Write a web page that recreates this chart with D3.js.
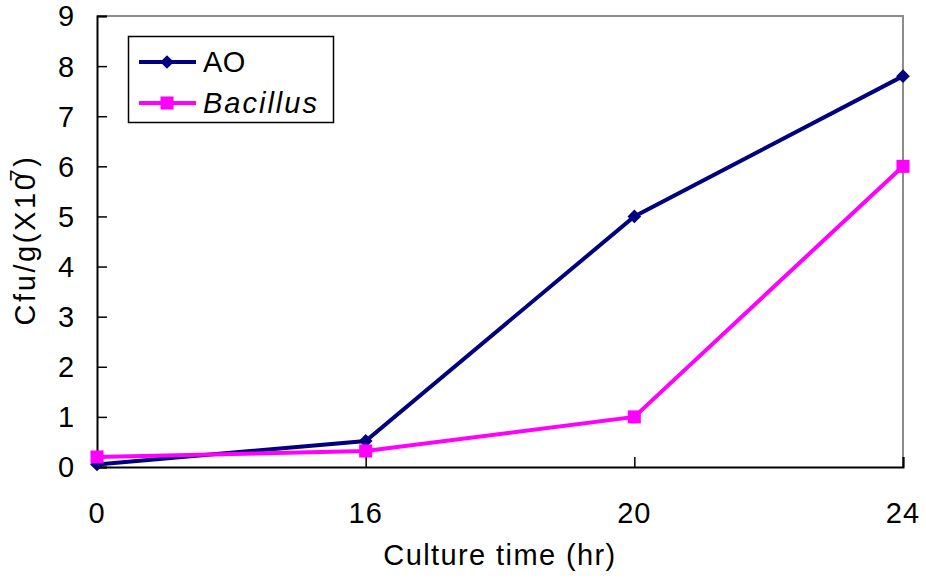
<!DOCTYPE html>
<html><head><meta charset="utf-8">
<script src="https://cdn.jsdelivr.net/npm/d3@7"></script>
<style>body{margin:0;background:#fff}svg{display:block}text{font-family:"Liberation Sans",Arial,sans-serif;fill:#000}</style>
</head><body><svg id="c" width="926" height="580"></svg>
<script>
const categories = ["0","16","20","24"];
const aoValues = [0.05, 0.52, 5.0, 7.8];
const bacillusValues = [0.2, 0.32, 1.0, 6.0];
const yTicks = [0,1,2,3,4,5,6,7,8,9];
const seriesNames = ["AO","Bacillus"];

const svg = d3.select("#c");
const L=97, R=903, T=16, B=467;
const x = d3.scalePoint().domain(categories).range([L,R]);
const y = d3.scaleLinear().domain([0,9]).range([B,T]);
const fs = 29;

// frame (top/right gray)
svg.append("path").attr("d",`M${L},${T}H${R}V${B}`).attr("fill","none").attr("stroke","#8c8c8c").attr("stroke-width",2);

// y axis
const ya = svg.append("g").attr("transform",`translate(${L},0)`)
  .call(d3.axisRight(y).tickValues(yTicks).tickSize(10).tickFormat(""));
ya.select(".domain").attr("stroke","#000").attr("stroke-width",2);
ya.selectAll(".tick line").attr("stroke","#000").attr("stroke-width",1.5);
svg.append("g").selectAll("text").data(yTicks).join("text")
  .attr("x",66).attr("y",d=>y(d)).attr("dy","0.36em").attr("text-anchor","middle")
  .attr("font-size",fs).text(d=>d);

// x axis
const xa = svg.append("g").attr("transform",`translate(0,${B})`)
  .call(d3.axisTop(x).tickSize(10).tickFormat(""));
xa.select(".domain").attr("stroke","#000").attr("stroke-width",2);
xa.selectAll(".tick line").attr("stroke","#000").attr("stroke-width",1.5);
svg.append("g").selectAll("text").data(categories).join("text")
  .attr("x",d=>x(d)).attr("y",523).attr("text-anchor","middle")
  .attr("font-size",fs).attr("letter-spacing",1).text(d=>d);

// titles
svg.append("text").attr("x",500).attr("y",565).attr("text-anchor","middle")
  .attr("font-size",fs).attr("letter-spacing",1.4).text("Culture time (hr)");
const yt = svg.append("text").attr("transform","translate(35,240) rotate(-90)")
  .attr("text-anchor","middle").attr("font-size",fs).attr("letter-spacing",2.6);
yt.append("tspan").text("Cfu/g(X10");
yt.append("tspan").attr("dy",-10).attr("dx",-10).attr("font-size",22).text("7");
yt.append("tspan").attr("dy",10).text(")");

// series
const line = d3.line().x((d,i)=>x(categories[i])).y(d=>y(d));
const navy="#000080", mag="#ff00ff";
svg.append("path").datum(aoValues).attr("d",line).attr("fill","none").attr("stroke",navy).attr("stroke-width",4);
svg.append("path").datum(bacillusValues).attr("d",line).attr("fill","none").attr("stroke",mag).attr("stroke-width",4);
const diamond = d3.symbol().type(d3.symbolDiamond2).size(120);
const square = d3.symbol().type(d3.symbolSquare).size(170);
svg.append("g").selectAll("path").data(aoValues).join("path")
  .attr("d",diamond).attr("fill",navy)
  .attr("transform",(d,i)=>`translate(${x(categories[i])},${y(d)})`);
svg.append("g").selectAll("path").data(bacillusValues).join("path")
  .attr("d",square).attr("fill",mag)
  .attr("transform",(d,i)=>`translate(${x(categories[i])},${y(d)})`);

// legend
const lg = svg.append("g");
lg.append("rect").attr("x",128.5).attr("y",36.5).attr("width",205).attr("height",86)
  .attr("fill","#fff").attr("stroke","#000").attr("stroke-width",1.5);
const ly=[62,103], cols=[navy,mag], shapes=[diamond,square];
seriesNames.forEach((n,i)=>{
  lg.append("line").attr("x1",139).attr("x2",196).attr("y1",ly[i]).attr("y2",ly[i]).attr("stroke",cols[i]).attr("stroke-width",4);
  lg.append("path").attr("d",shapes[i]).attr("fill",cols[i]).attr("transform",`translate(167,${ly[i]})`);
  lg.append("text").attr("x",203).attr("y",ly[i]).attr("dy","0.36em").attr("font-size",fs)
    .attr("letter-spacing",i===1?2:0.5)
    .attr("font-style",i===1?"italic":"normal").text(n);
});
</script></body></html>
